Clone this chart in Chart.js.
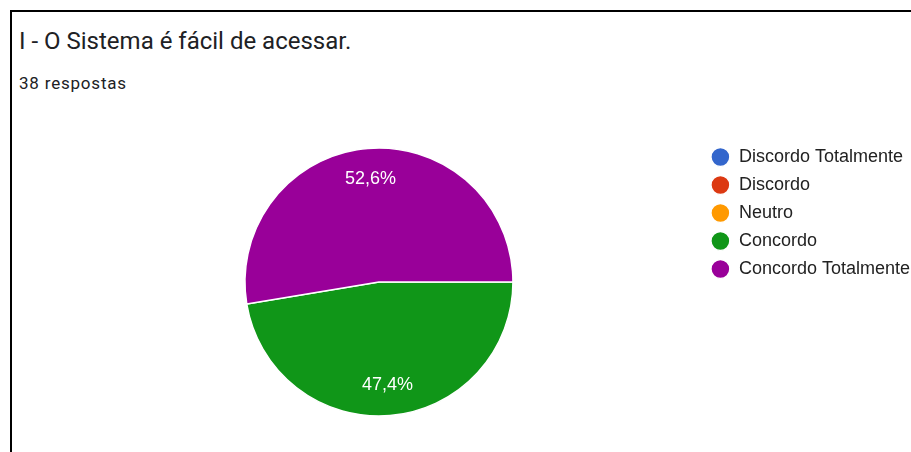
<!DOCTYPE html>
<html>
<head>
<meta charset="utf-8">
<script src="https://cdn.jsdelivr.net/npm/chart.js@4"></script>
<style>
  body { margin: 0; background: #fff; width: 911px; height: 452px; overflow: hidden; position: relative; }
  .card { position: absolute; left: 10px; top: 10px; width: 940px; height: 500px; border-top: 2px solid #000; border-left: 2px solid #000; }
  .title { position: absolute; left: 19px; top: 29px; font: 24px/24px Roboto, sans-serif; color: #202124; white-space: nowrap; }
  .sub { position: absolute; left: 19px; top: 75px; font: 17px/17px Roboto, sans-serif; letter-spacing: 0.8px; color: #202124; white-space: nowrap; }
  .wrap { position: absolute; left: 12px; top: 100px; width: 908px; height: 352px; }
</style>
</head>
<body>
<div class="card"></div>
<div class="title">I - O Sistema é fácil de acessar.</div>
<div class="sub">38 respostas</div>
<div class="wrap"><canvas id="pieChart"></canvas></div>
<script>
// respostas por opção (38 no total)
var labels = ["Discordo Totalmente", "Discordo", "Neutro", "Concordo", "Concordo Totalmente"];
var counts = [0, 0, 0, 18, 20];
var colors = ["#3366cc", "#dc3912", "#ff9900", "#109618", "#990099"];

// percentual dentro da fatia, em branco
var sliceLabels = {
    id: 'sliceLabels',
    afterDatasetsDraw: function(chart) {
        var ctx = chart.ctx;
        var total = counts.reduce(function(a, b) { return a + b; }, 0);
        chart.getDatasetMeta(0).data.forEach(function(arc, i) {
            if (!counts[i]) return;
            var p = arc.getProps(['x', 'y', 'startAngle', 'endAngle', 'outerRadius']);
            var mid = (p.startAngle + p.endAngle) / 2;
            var r = p.outerRadius * 0.77;
            var pct = (counts[i] / total * 100).toFixed(1).replace('.', ',') + '%';
            ctx.save();
            ctx.fillStyle = '#fff';
            ctx.font = '18px "Liberation Sans", Arial, sans-serif';
            ctx.textAlign = 'center';
            ctx.textBaseline = 'middle';
            ctx.fillText(pct, p.x + Math.cos(mid) * r, p.y + Math.sin(mid) * r);
            ctx.restore();
        });
    }
};

var ctx = document.getElementById('pieChart').getContext('2d');
var pieChart = new Chart(ctx, {
    type: 'pie',
    data: {
        labels: labels,
        datasets: [{
            data: counts,
            backgroundColor: colors,
            borderColor: '#fff',
            borderWidth: 1.5,
            radius: 134
        }]
    },
    options: {
        responsive: true,
        maintainAspectRatio: false,
        animation: false,
        rotation: 90,
        layout: { padding: { left: 45, top: 38, bottom: 26, right: 0 } },
        plugins: {
            tooltip: { enabled: false },
            legend: {
                position: 'right',
                align: 'start',
                labels: {
                    usePointStyle: true,
                    pointStyle: 'circle',
                    pointStyleWidth: 19,
                    boxHeight: 13.4,
                    padding: 10,
                    color: '#222',
                    font: { family: '"Liberation Sans", Arial, sans-serif', size: 18 }
                }
            }
        }
    },
    plugins: [sliceLabels]
});
</script>
</body>
</html>
